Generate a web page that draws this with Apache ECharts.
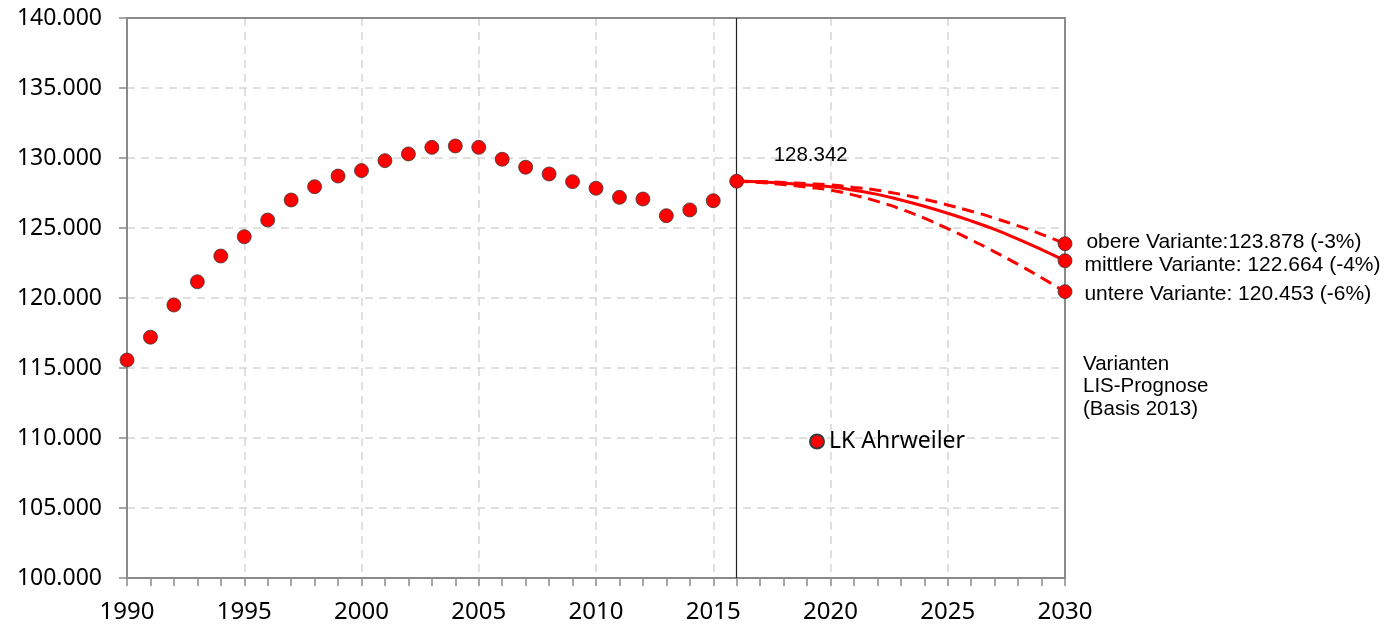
<!DOCTYPE html>
<html>
<head>
<meta charset="utf-8">
<script src="https://cdn.jsdelivr.net/npm/echarts@6/dist/echarts.min.js"></script>
<style>
html,body{margin:0;padding:0;background:#fff;}
#chart{width:1389px;height:628px;}
</style>
</head>
<body>
<div id="chart"></div>
<script>
// Historical population (LK Ahrweiler)
const histYears = [1990,1991,1992,1993,1994,1995,1996,1997,1998,1999,2000,2001,2002,2003,2004,2005,2006,2007,2008,2009,2010,2011,2012,2013,2014,2015,2016];
const histValues = [115570,117200,119500,121160,123000,124380,125570,127000,127950,128710,129100,129810,130290,130760,130860,130760,129910,129340,128860,128310,127840,127190,127070,125880,126290,126950,128342];

// Projection variants (LIS-Prognose, Basis 2013)
const projYears = [2016,2017,2018,2019,2020,2021,2022,2023,2024,2025,2026,2027,2028,2029,2030];
const upperValues = [128342,128320,128250,128170,128070,127900,127700,127400,127050,126640,126200,125700,125150,124550,123878];
const middleValues = [128342,128300,128200,128080,127950,127700,127400,127000,126550,126050,125500,124900,124200,123450,122664];
const lowerValues = [128342,128250,128100,127920,127710,127350,126900,126350,125700,124950,124150,123300,122400,121450,120453];

const endLabels = ['obere Variante:123.878 (-3%)','mittlere Variante: 122.664 (-4%)','untere Variante: 120.453 (-6%)'];
const endValues = [123878,122664,120453];
const baseLabel = '128.342';
const noteText = 'Varianten\nLIS-Prognose\n(Basis 2013)';
const seriesName = 'LK Ahrweiler';

const yTicks = {min:100000, max:140000, interval:5000};
const xTicks = {min:1990, max:2030, interval:5};

function fmtThousands(v){
  return String(Math.round(v)).replace(/\B(?=(\d{3})+(?!\d))/g,'.');
}
function pairs(xs, ys){ return xs.map((x,i)=>[x, ys[i]]); }

const chart = echarts.init(document.getElementById('chart'));
const red = '#ff0000';
const dotStyle = {color: red, borderColor: '#3a3a3a', borderWidth: 0.8, opacity:1};
const axisGray = '#8a8a8a';

const histData = pairs(histYears, histValues).map((p,i)=>{
  if (i === histYears.length-1) {
    return {value:p, label:{show:true, formatter: baseLabel, position:'top', offset:[74,-3],
      fontFamily:'Liberation Sans', fontSize:20.5, color:'#000'}};
  }
  return p;
});

const endOffsets = [-2,4,3];
const endData = endValues.map((v,i)=>({
  value:[2030, v],
  label:{show:true, position:'right', formatter:endLabels[i], offset:[7+(i===0?2:0), endOffsets[i]],
    fontFamily:'Liberation Sans', fontSize:21, color:'#000'}
}));

const hiddenAxisBase = {
  type:'value', axisTick:{show:false}, axisLabel:{show:false}, splitLine:{show:false},
  axisLine:{show:true, onZero:false, lineStyle:{color:axisGray, width:2}}
};

const option = {
  animation:false,
  backgroundColor:'#fff',
  grid:{left:127, right:324, top:18, bottom:50, containLabel:false},
  legend:{
    show:true, data:[{name:seriesName, icon:'circle'}],
    left:804, top:425, itemWidth:14, itemHeight:14, itemGap:10,
    textStyle:{fontFamily:'Noto Sans', fontSize:23, color:'#000'}
  },
  xAxis:[{
    type:'value', min:xTicks.min, max:xTicks.max, interval:xTicks.interval,
    axisLine:{show:true, lineStyle:{color:axisGray, width:2}},
    axisTick:{show:true, length:8, lineStyle:{color:axisGray, width:1.5}},
    minorTick:{show:true, splitNumber:5, length:8, lineStyle:{color:axisGray, width:1.5}},
    axisLabel:{fontFamily:'Noto Sans', fontSize:24, color:'#000', margin:22, formatter:v=>String(v)},
    splitLine:{show:true, lineStyle:{color:'#d6d6d6', type:[8,6], width:1.5}}
  },
  Object.assign({}, hiddenAxisBase, {position:'top', min:xTicks.min, max:xTicks.max})
  ],
  yAxis:[{
    type:'value', min:yTicks.min, max:yTicks.max, interval:yTicks.interval,
    axisLine:{show:true, lineStyle:{color:axisGray, width:2}},
    axisTick:{show:true, length:8, lineStyle:{color:axisGray, width:1.5}},
    axisLabel:{fontFamily:'Noto Sans', fontSize:23, color:'#000', margin:25, formatter:fmtThousands},
    splitLine:{show:true, lineStyle:{color:'#d6d6d6', type:[8,6], width:1.5}}
  },
  Object.assign({}, hiddenAxisBase, {position:'right', min:yTicks.min, max:yTicks.max})
  ],
  graphic:[{
    type:'text', left:1083, top:353,
    style:{text:noteText, fontFamily:'Liberation Sans', fontSize:20.5, lineHeight:22.5, fill:'#000'}
  }],
  series:[
    {
      name:'obere', type:'line', smooth:true, showSymbol:false, silent:true,
      data:pairs(projYears, upperValues),
      lineStyle:{color:red, width:3, type:[12,7]}, z:3
    },
    {
      name:'mittlere', type:'line', smooth:true, showSymbol:false, silent:true,
      data:pairs(projYears, middleValues),
      lineStyle:{color:red, width:3, type:'solid'}, z:3
    },
    {
      name:'untere', type:'line', smooth:true, showSymbol:false, silent:true,
      data:pairs(projYears, lowerValues),
      lineStyle:{color:red, width:3, type:[12,7]}, z:3
    },
    {
      name:seriesName, type:'scatter', symbol:'circle', symbolSize:14,
      itemStyle:dotStyle, data:histData, z:5,
      markLine:{
        silent:true, symbol:'none', label:{show:false},
        lineStyle:{color:'#222', width:1.2, type:'solid'},
        data:[{xAxis:2016}]
      }
    },
    {
      name:'Ende', type:'scatter', symbol:'circle', symbolSize:14,
      itemStyle:dotStyle, data:endData, z:6
    }
  ]
};
chart.setOption(option);
</script>
</body>
</html>
